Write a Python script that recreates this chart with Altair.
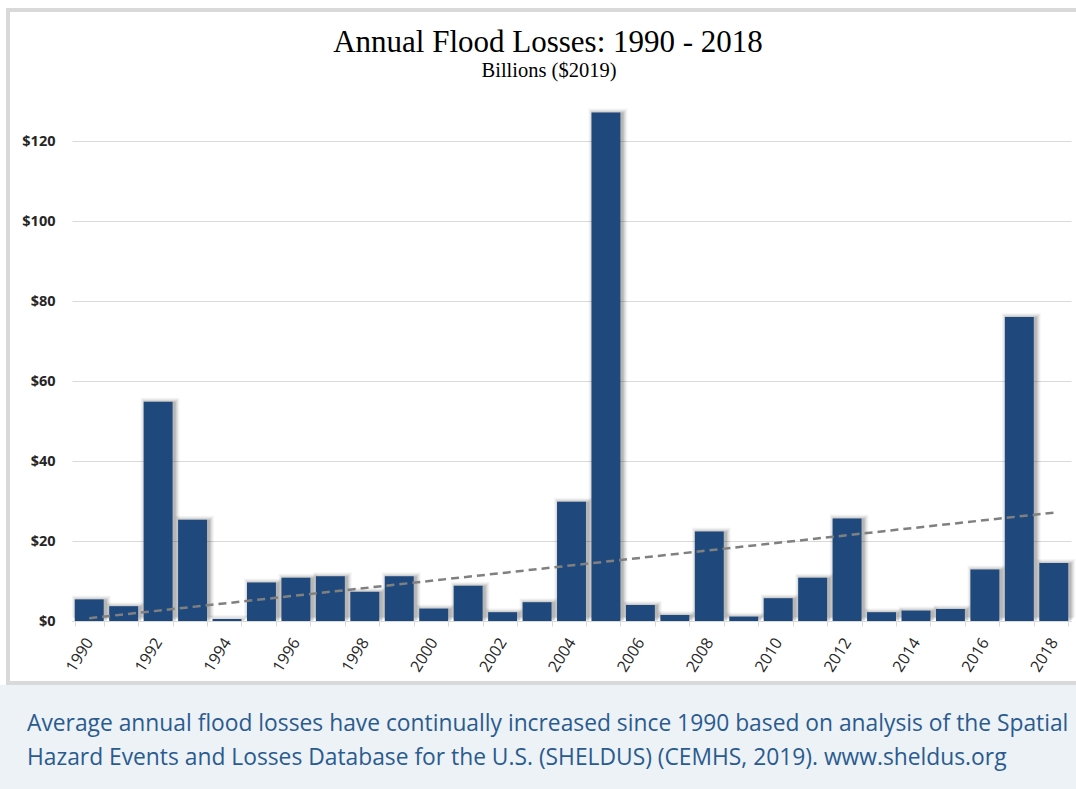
import altair as alt
import pandas as pd

# ---- data ----
years = list(range(1990, 2019))
losses = [5.4, 3.7, 54.8, 25.3, 0.5, 9.6, 10.8, 11.2, 7.3, 11.2,
          3.1, 8.8, 2.2, 4.7, 29.8, 127.1, 4.0, 1.5, 22.4, 1.1,
          5.7, 10.8, 25.6, 2.2, 2.6, 3.0, 12.9, 76.0, 14.5]
trend_years = [1990, 2018]
trend_values = [0.7, 27.1]
y_ticks = [0, 20, 40, 60, 80, 100, 120]
title_text = "Annual Flood Losses: 1990 - 2018"
subtitle_text = "Billions ($2019)"
caption_lines = [
    "Average annual flood losses have continually increased since 1990 based on analysis of the Spatial",
    "Hazard Events and Losses Database for the U.S. (SHELDUS) (CEMHS, 2019). www.sheldus.org",
]

df = pd.DataFrame({"year": years, "loss": losses})
trend = pd.DataFrame({"year": trend_years, "loss": trend_values})
one = pd.DataFrame({"k": [0]})

W, H = 999, 520
BAR = "#1F497D"
GRID = "#D9D9D9"

x_enc = alt.X(
    "year:O",
    title=None,
    scale=alt.Scale(paddingInner=0.16, paddingOuter=0.08),
    axis=alt.Axis(
        labelExpr="datum.value % 2 == 0 ? datum.label : ''",
        labelAngle=-58,
        labelAlign="right",
        labelBaseline="middle",
        labelFont="Open Sans",
        labelFontSize=16,
        labelColor="#262626",
        labelPadding=13,
        labelOverlap=False,
        tickBand="extent",
        tickSize=5,
        tickColor=GRID,
        domainColor=GRID,
        domainWidth=1,
        grid=False,
    ),
)
y_enc = alt.Y(
    "loss:Q",
    title=None,
    scale=alt.Scale(domain=[0, 130], nice=False),
    axis=alt.Axis(
        values=y_ticks,
        labelExpr="'$' + datum.value",
        labelFont="Open Sans",
        labelFontWeight="bold",
        labelFontSize=14.5,
        labelColor="#262626",
        labelPadding=17,
        domain=False,
        ticks=False,
        gridColor=GRID,
        gridWidth=1,
    ),
)

# caption background and chart frame (pixel positions relative to plot origin)
caption_bg = alt.Chart(one).mark_rect(color="#EDF2F6").encode(
    x=alt.value(-72), x2=alt.value(1010), y=alt.value(584), y2=alt.value(690)
)
frame = alt.Chart(one).mark_rect(fill=None, stroke="#D9D9D9", strokeWidth=4).encode(
    x=alt.value(-64), x2=alt.value(1012), y=alt.value(-91), y2=alt.value(582)
)

base = alt.Chart(df)
shadows = []
for e, op in [(5, 0.035), (4, 0.045), (3, 0.06), (2, 0.08), (1, 0.10)]:
    shadows.append(
        base.mark_bar(color="black", opacity=op, width=29 + 2 * e, xOffset=2, yOffset=-e + 1)
        .encode(x=x_enc, y=y_enc)
    )
bars = base.mark_bar(color=BAR).encode(x=x_enc, y=y_enc)

trend_line = alt.Chart(trend).mark_line(
    color="#808080", strokeWidth=2.5, strokeDash=[8, 5]
).encode(x=alt.X("year:O"), y=alt.Y("loss:Q"))

title = alt.Chart(one).mark_text(
    text=title_text, align="center", baseline="alphabetic",
    font="Liberation Serif", fontSize=31, color="#000000",
).encode(x=alt.value(476), y=alt.value(-49))
subtitle = alt.Chart(one).mark_text(
    text=subtitle_text, align="center", baseline="alphabetic",
    font="Liberation Serif", fontSize=20.5, color="#000000",
).encode(x=alt.value(477), y=alt.value(-24))

caption = alt.Chart(one).mark_text(
    text=caption_lines,
    align="left",
    baseline="alphabetic",
    font="Open Sans",
    fontSize=22.8,
    lineHeight=34,
    color="#2A5B8F",
).encode(x=alt.value(-45), y=alt.value(630))

chart = alt.layer(caption_bg, frame, *shadows, bars, trend_line, title, subtitle, caption).properties(
    width=W,
    height=H,
    autosize="none",
    padding={"left": 72, "top": 101, "right": 5, "bottom": 168},
).configure_view(stroke=None)

chart.save("out.html", embed_options={"renderer": "svg", "actions": False})
